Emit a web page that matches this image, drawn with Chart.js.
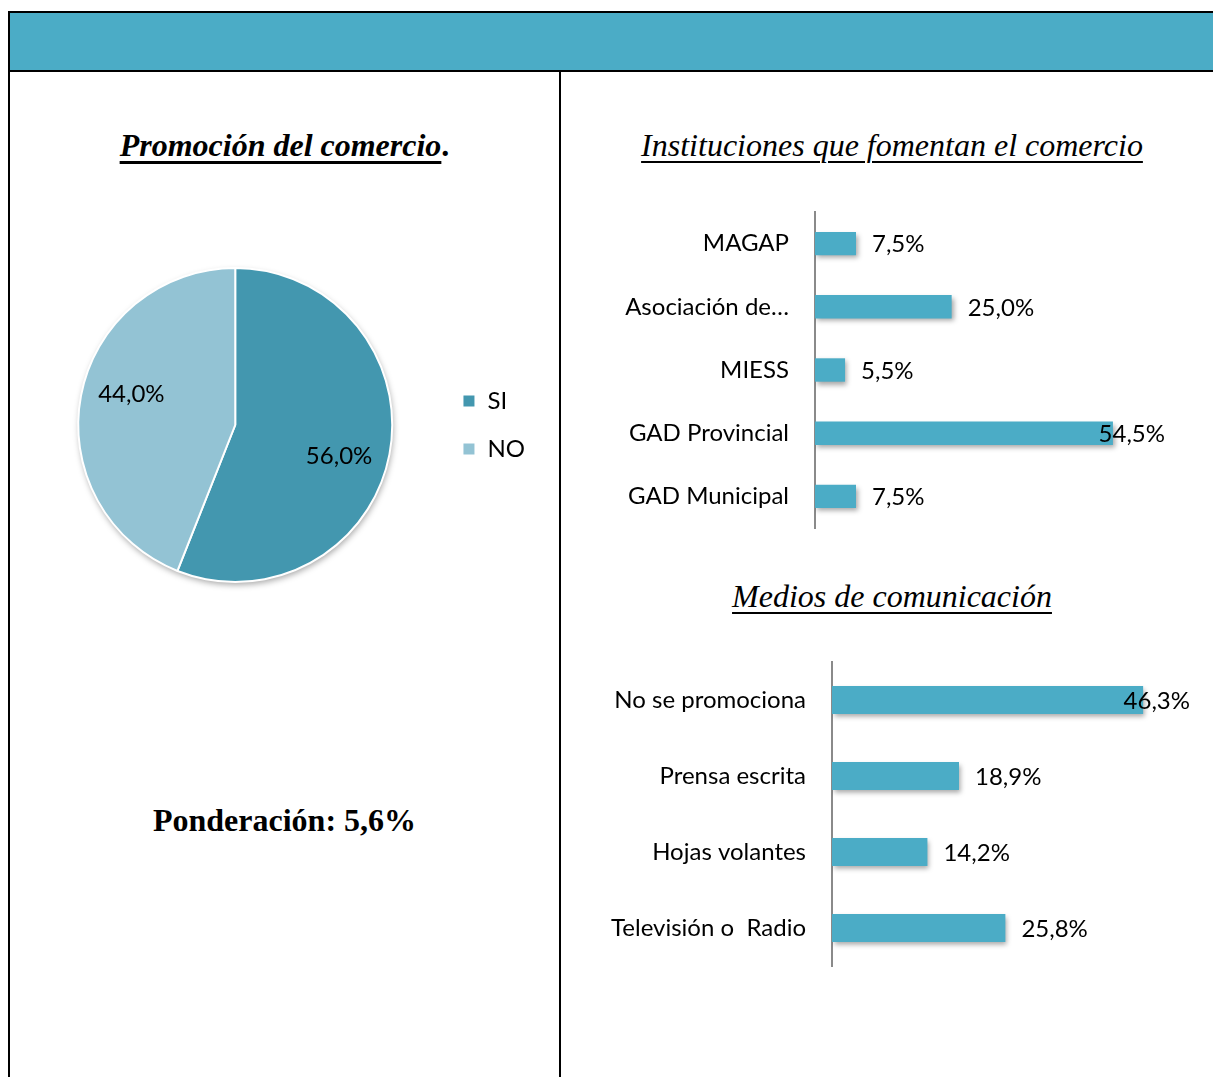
<!DOCTYPE html>
<html lang="es">
<head>
<meta charset="utf-8">
<title>Promoción del comercio</title>
<script src="https://cdn.jsdelivr.net/npm/chart.js@4.4.0/dist/chart.umd.min.js"></script>
<style>
    body { margin: 0; width: 1213px; height: 1077px; position: relative; overflow: hidden; background: #fff; font-family: Lato, sans-serif; }
    .topbar { position: absolute; left: 8px; top: 11px; right: 0; height: 57px; background: #4BACC6; border-top: 2px solid #000; border-bottom: 2px solid #000; }
    .vline { position: absolute; top: 11px; bottom: 0; width: 2px; background: #000; }
    .title { position: absolute; font-family: "Liberation Serif", serif; font-size: 32px; line-height: 32px; text-align: center; color: #000; white-space: nowrap; }
    .title u { text-decoration-thickness: 2px; text-underline-offset: 5px; }
    canvas { position: absolute; }
</style>
</head>
<body>
<div class="topbar"></div>
<div class="vline" style="left:8px"></div>
<div class="vline" style="left:559px; top:72px"></div>

<div class="title" style="left:10px; width:549px; top:129px; font-weight:bold;"><i><u style="text-decoration-thickness:3px">Promoción del comercio</u></i>.</div>
<div class="title" style="left:10px; width:549px; top:804px; font-weight:bold;">Ponderación: 5,6%</div>
<div class="title" style="left:562px; width:660px; top:129px;"><i><u>Instituciones que fomentan el comercio</u></i></div>
<div class="title" style="left:562px; width:660px; top:580px;"><i><u>Medios de comunicación</u></i></div>

<canvas id="pieChart" width="515" height="350" style="left:20px; top:250px;"></canvas>
<canvas id="instChart" width="600" height="340" style="left:600px; top:200px;"></canvas>
<canvas id="mediaChart" width="615" height="330" style="left:590px; top:650px;"></canvas>

<script>
// Promoción del comercio
const pieLabels = ["SI", "NO"];
const pieValues = [56.0, 44.0];
const pieColors = ["#4397AF", "#93C3D4"];

// Instituciones que fomentan el comercio
const instLabels = ["MAGAP", "Asociación de…", "MIESS", "GAD Provincial", "GAD Municipal"];
const instValues = [7.5, 25.0, 5.5, 54.5, 7.5];

// Medios de comunicación
const mediaLabels = ["No se promociona", "Prensa escrita", "Hojas volantes", "Televisión o  Radio"];
const mediaValues = [46.3, 18.9, 14.2, 25.8];

const barColor = "#4BACC6";
const labelFont = { family: "Lato", size: 24 };

function pct(v) {
    return v.toFixed(1).replace(".", ",") + "%";
}

// soft drop shadow under the bars
const barShadow = {
    id: "barShadow",
    beforeDatasetsDraw(chart) {
        const ctx = chart.ctx;
        ctx.save();
        ctx.shadowColor = "rgba(0,0,0,0.35)";
        ctx.shadowBlur = 5;
        ctx.shadowOffsetX = 2;
        ctx.shadowOffsetY = 3;
    },
    afterDatasetsDraw(chart) {
        chart.ctx.restore();
    }
};

// value next to the end of each bar, kept inside the right margin
const barValueLabels = {
    id: "barValueLabels",
    afterDatasetsDraw(chart) {
        const ctx = chart.ctx;
        const values = chart.data.datasets[0].data;
        ctx.save();
        ctx.font = labelFont.size + "px " + labelFont.family;
        ctx.fillStyle = "#000";
        ctx.textAlign = "left";
        ctx.textBaseline = "middle";
        chart.getDatasetMeta(0).data.forEach((bar, i) => {
            const text = pct(values[i]);
            const w = ctx.measureText(text).width;
            const x = Math.min(bar.x + 16, chart.chartArea.right + 22 - w);
            ctx.fillText(text, x, bar.y + 1);
        });
        ctx.restore();
    }
};

const pieShadow = {
    id: "pieShadow",
    beforeDatasetsDraw(chart) {
        const arc = chart.getDatasetMeta(0).data[0];
        if (!arc) return;
        const ctx = chart.ctx;
        ctx.save();
        ctx.shadowColor = "rgba(0,0,0,0.35)";
        ctx.shadowBlur = 6;
        ctx.shadowOffsetX = 1;
        ctx.shadowOffsetY = 3;
        ctx.fillStyle = "#fff";
        ctx.beginPath();
        ctx.arc(arc.x, arc.y, arc.outerRadius, 0, Math.PI * 2);
        ctx.fill();
        ctx.restore();
    }
};

// percentages inside the slices (Excel puts them a little past the mid angle)
const pieValueLabels = {
    id: "pieValueLabels",
    afterDatasetsDraw(chart) {
        const ctx = chart.ctx;
        const values = chart.data.datasets[0].data;
        ctx.save();
        ctx.font = labelFont.size + "px " + labelFont.family;
        ctx.fillStyle = "#000";
        ctx.textAlign = "center";
        ctx.textBaseline = "middle";
        chart.getDatasetMeta(0).data.forEach((arc, i) => {
            const mid = (arc.startAngle + arc.endAngle) / 2 + 0.1;
            const r = arc.outerRadius * 0.69;
            ctx.fillText(pct(values[i]), arc.x + Math.cos(mid) * r, arc.y + Math.sin(mid) * r);
        });
        ctx.restore();
    }
};

function barOptions(maxX, axisWidth, padding) {
    return {
        indexAxis: "y",
        responsive: false,
        animation: false,
        layout: { padding: padding },
        plugins: {
            legend: { display: false },
            tooltip: { enabled: false }
        },
        scales: {
            x: { display: false, min: 0, max: maxX },
            y: {
                grid: { display: false, drawTicks: false },
                border: { display: true, color: "#8a8a8a", width: 2 },
                ticks: { color: "#000", padding: 26, font: labelFont },
                afterFit(scale) {
                    scale.width = axisWidth;
                    scale.paddingTop = 0;
                    scale.paddingBottom = 0;
                }
            }
        }
    };
}

// Pie chart
new Chart(document.getElementById("pieChart"), {
    type: "pie",
    data: {
        labels: pieLabels,
        datasets: [{
            data: pieValues,
            backgroundColor: pieColors,
            borderColor: "#fff",
            borderWidth: 2
        }]
    },
    options: {
        responsive: false,
        animation: false,
        layout: { padding: { top: 17, bottom: 17, left: 12, right: 0 } },
        plugins: {
            legend: {
                position: "right",
                labels: { color: "#000", boxWidth: 13, boxHeight: 13, padding: 24, font: labelFont }
            },
            tooltip: { enabled: false }
        }
    },
    plugins: [pieShadow, pieValueLabels]
});

// Instituciones
new Chart(document.getElementById("instChart"), {
    type: "bar",
    data: {
        labels: instLabels,
        datasets: [{
            data: instValues,
            backgroundColor: barColor,
            categoryPercentage: 1,
            barPercentage: 0.37
        }]
    },
    options: barOptions(60, 215, { top: 12, bottom: 12, left: 0, right: 57 }),
    plugins: [barShadow, barValueLabels]
});

// Medios de comunicación
new Chart(document.getElementById("mediaChart"), {
    type: "bar",
    data: {
        labels: mediaLabels,
        datasets: [{
            data: mediaValues,
            backgroundColor: barColor,
            categoryPercentage: 1,
            barPercentage: 0.37
        }]
    },
    options: barOptions(50, 242, { top: 12, bottom: 14, left: 0, right: 37 }),
    plugins: [barShadow, barValueLabels]
});
</script>
</body>
</html>
